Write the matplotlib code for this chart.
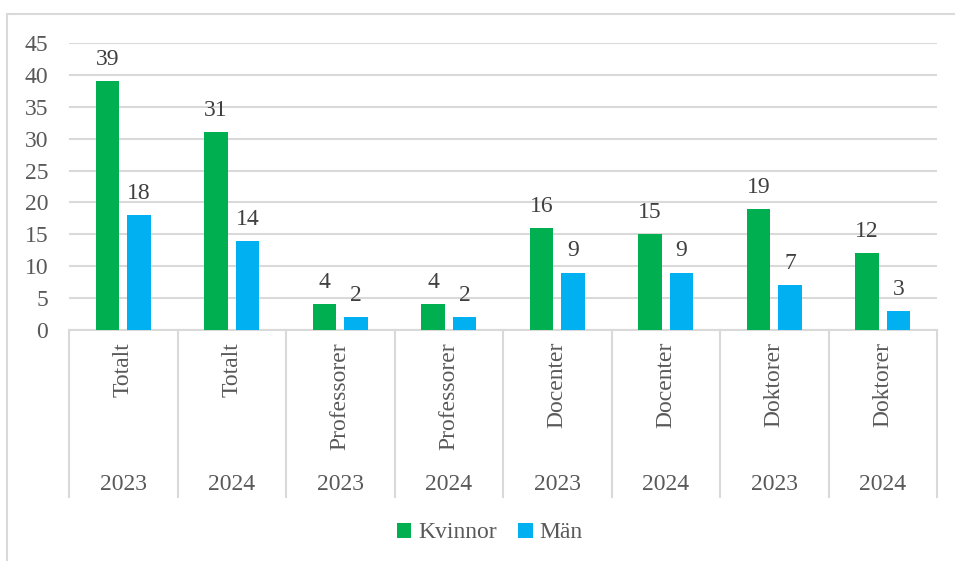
import matplotlib
matplotlib.use("Agg")
import matplotlib.pyplot as plt
from matplotlib.patches import Rectangle
from matplotlib.lines import Line2D

categories = ["Totalt", "Totalt", "Professorer", "Professorer", "Docenter", "Docenter", "Doktorer", "Doktorer"]
years = ["2023", "2024", "2023", "2024", "2023", "2024", "2023", "2024"]
kvinnor = [39, 31, 4, 4, 16, 15, 19, 12]
man = [18, 14, 2, 2, 9, 9, 7, 3]
series_names = ["Kvinnor", "Män"]
yticks = [0, 5, 10, 15, 20, 25, 30, 35, 40, 45]

plt.rcParams['font.family'] = ['Liberation Serif', 'DejaVu Serif']
TXT = '#595959'
GRID = '#D9D9D9'
GREEN = '#00B050'
BLUE = '#00B0F0'
FS = 17

W, H = 955, 561
fig = plt.figure(figsize=(W / 100, H / 100), dpi=100)
fig.patch.set_facecolor('white')

# outer chart border
fig.add_artist(Rectangle((7 / W, -0.1), 2.0, 1 - 14 / H + 0.1, transform=fig.transFigure,
                         fill=False, edgecolor=GRID, lw=1.5))

left, right, top, bottom = 69, 937, 43, 330
ax = fig.add_axes([left / W, 1 - bottom / H, (right - left) / W, (bottom - top) / H])

n = len(categories)
x = list(range(n))
bw = 0.22
off = 0.145
gx = [i - off for i in x]
bx = [i + off for i in x]
ax.bar(gx, kvinnor, width=bw, color=GREEN, label=series_names[0], zorder=3)
ax.bar(bx, man, width=bw, color=BLUE, label=series_names[1], zorder=3)

for xs, vals in ((gx, kvinnor), (bx, man)):
    for xi, v in zip(xs, vals):
        ax.annotate(str(v), (xi, v), xytext=(0, 8), textcoords='offset points',
                    ha='center', va='bottom', fontsize=FS, color='#404040')

ax.set_xlim(-0.5, n - 0.5)
ax.set_ylim(0, 45)
ax.set_yticks(yticks)
ax.set_yticklabels([str(t) for t in yticks], fontsize=FS, color=TXT)
ax.tick_params(axis='y', length=0, pad=15)
ax.set_xticks([])
ax.yaxis.grid(True, color=GRID, lw=1.5, zorder=0)
for s in ['top', 'right', 'left']:
    ax.spines[s].set_visible(False)
ax.spines['bottom'].set_color(GRID)
ax.spines['bottom'].set_linewidth(1.5)

# multi-level category axis
trans = ax.get_xaxis_transform()
ax_h_px = bottom - top
def yfrac(py):
    return (bottom - py) / ax_h_px

for k in range(n + 1):
    ax.add_line(Line2D([k - 0.5, k - 0.5], [0, yfrac(497)], transform=trans,
                       color=GRID, lw=1.5, clip_on=False))
for i, (c, yr) in enumerate(zip(categories, years)):
    ax.text(i, yfrac(342), c, transform=trans, rotation=90, ha='center', va='top',
            fontsize=FS, color=TXT)
    ax.text(i, yfrac(484), yr, transform=trans, ha='center', va='center',
            fontsize=FS, color=TXT)

leg = fig.legend(loc='center', bbox_to_anchor=(490 / W, 1 - 533 / H), ncol=2, frameon=False,
                 fontsize=FS, handlelength=0.6, handleheight=0.6, handletextpad=0.3,
                 columnspacing=0.9)
for t in leg.get_texts():
    t.set_color(TXT)

fig.savefig('out.png', dpi=100)
